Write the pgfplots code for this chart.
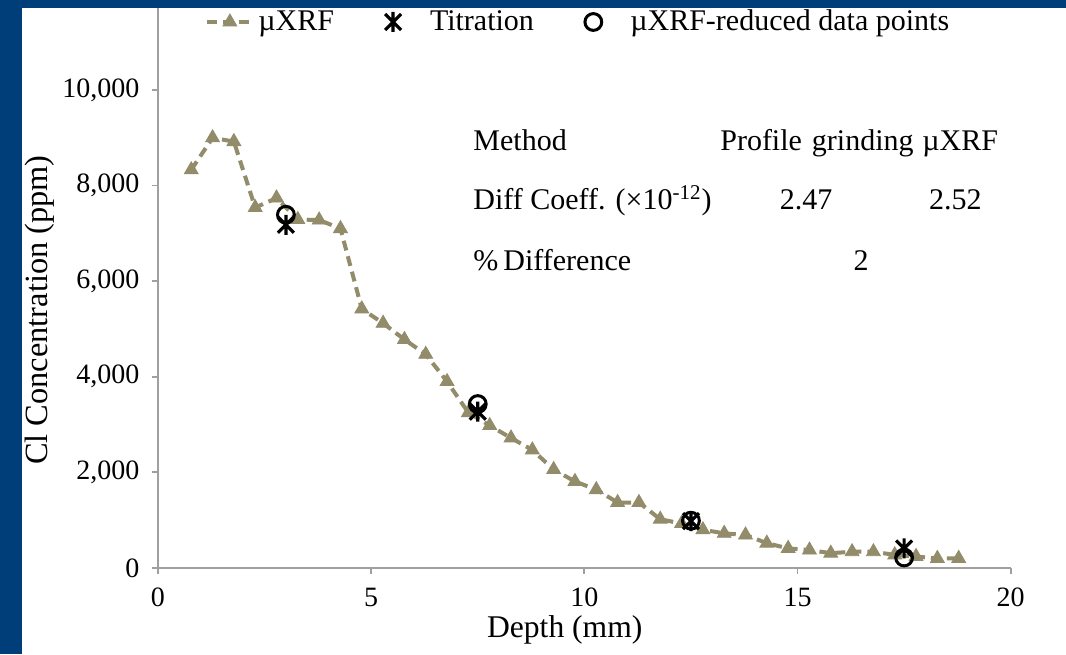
\documentclass[border=0pt]{standalone}
\usepackage{pgfplots}
\usepackage{pgfplotstable}
\pgfplotsset{compat=1.18}
\usepackage{fontspec}
\setmainfont{Liberation Serif}

\definecolor{frameblue}{RGB}{0,62,122}
\definecolor{xrfolive}{RGB}{147,140,106}
\definecolor{axisgray}{RGB}{160,160,160}

\tikzset{table node/.style={font=\fontsize{15}{18}\selectfont, inner sep=0pt}}

% star marker: a cross with a vertical bar through it
\pgfdeclareplotmark{xstar}{%
  \pgfpathmoveto{\pgfqpoint{-0.8\pgfplotmarksize}{-0.8\pgfplotmarksize}}%
  \pgfpathlineto{\pgfqpoint{0.8\pgfplotmarksize}{0.8\pgfplotmarksize}}%
  \pgfpathmoveto{\pgfqpoint{-0.8\pgfplotmarksize}{0.8\pgfplotmarksize}}%
  \pgfpathlineto{\pgfqpoint{0.8\pgfplotmarksize}{-0.8\pgfplotmarksize}}%
  \pgfpathmoveto{\pgfqpoint{0pt}{-\pgfplotmarksize}}%
  \pgfpathlineto{\pgfqpoint{0pt}{\pgfplotmarksize}}%
  \pgfusepathqstroke}

% chloride profile from micro-XRF scanning
\pgfplotstableread{
depth conc
0.78  8330
1.28  9000
1.78  8920
2.28  7540
2.78  7740
3.28  7290
3.78  7280
4.28  7100
4.78  5420
5.28  5120
5.78  4780
6.28  4470
6.78  3900
7.28  3250
7.78  2980
8.28  2720
8.78  2470
9.28  2060
9.78  1810
10.28 1640
10.78 1370
11.28 1370
11.78 1020
12.28 930
12.78 800
13.28 725
13.78 690
14.28 520
14.78 410
15.28 375
15.78 310
16.28 340
16.78 340
17.28 275
17.78 240
18.28 200
18.78 200
}\xrfdata

% profile grinding with titration
\pgfplotstableread{
depth conc
3.0  7180
7.5  3270
12.5 980
17.5 410
}\titrdata

% micro-XRF values reduced to the grinding depths
\pgfplotstableread{
depth conc
3.0  7390
7.5  3430
12.5 990
17.5 220
}\reddata

\begin{document}
\begin{tikzpicture}[x=1pt,y=1pt]
\path[use as bounding box] (0,0) rectangle (533,327);
\fill[frameblue] (0,0) rectangle (533,327);
\fill[white] (11,0) rectangle (533,323);
\begin{axis}[
  at={(79pt,43pt)}, anchor=south west,
  scale only axis, width=426.35pt, height=280pt,
  xmin=0, xmax=20, ymin=0, ymax=11715,
  axis x line*=bottom, axis y line*=left,
  axis line style={draw=axisgray, line width=1pt},
  xtick={0,5,10,15,20},
  ytick={0,2000,4000,6000,8000,10000},
  tick align=outside,
  major tick length=2.8pt,
  tick style={draw=axisgray, line width=0.9pt},
  scaled y ticks=false,
  /pgf/number format/1000 sep={,},
  /pgf/number format/assume math mode=true,
  ticklabel style={font=\fontsize{14}{16}\selectfont, text=black},
  xticklabel style={yshift=-3.5pt},
  yticklabel style={xshift=-3pt},
  xlabel={Depth (mm)},
  ylabel={Cl Concentration (ppm)},
  every axis x label/.style={at={(axis description cs:0.477,-0.11)}, anchor=center, font=\fontsize{15.8}{18}\selectfont},
  every axis y label/.style={at={(axis description cs:-0.1384,0.4607)}, rotate=90, anchor=center, font=\fontsize{16.2}{18}\selectfont},
  legend columns=3,
  legend style={at={(axis description cs:0.0551,0.975)}, anchor=west,
    draw=none, fill=none, inner sep=0pt,
    font=\fontsize{15}{18}\selectfont,
    nodes={inner xsep=2pt},
    /tikz/every even column/.append style={column sep=23.5pt}},
]
\addplot[color=xrfolive, line width=2pt, dash pattern=on 5pt off 3pt,
  mark=triangle*, mark size=4pt,
  mark options={solid, fill=xrfolive, draw=xrfolive, line width=0.4pt},
  legend image code/.code={\draw[mark repeat=2, mark phase=2] plot coordinates {(0pt,0pt) (11.25pt,0pt) (22.5pt,0pt)};}]
  table[x=depth, y=conc] {\xrfdata};
\addlegendentry{µXRF}
\addplot[only marks, mark=xstar, mark size=5pt, draw=black, line width=1.6pt,
  legend image code/.code={\path[draw=none] (0pt,0pt) -- (16.5pt,0pt); \draw[only marks] plot coordinates {(0pt,0pt)};}]
  table[x=depth, y=conc] {\titrdata};
\addlegendentry{Titration}
\addplot[only marks, mark=o, mark size=4.2pt, draw=black, line width=1.5pt,
  legend image code/.code={\path[draw=none] (0pt,0pt) -- (16.5pt,0pt); \draw[only marks] plot coordinates {(0pt,0pt)};}]
  table[x=depth, y=conc] {\reddata};
\addlegendentry{µXRF-reduced data points}

% diffusion coefficient summary
\node[table node, anchor=base west] at (axis cs:7.39,8724) {Method};
\node[table node, anchor=base west] at (axis cs:13.18,8724) {Profile\hspace{5pt}grinding};
\node[table node, anchor=base west] at (axis cs:17.92,8724) {µXRF};
\node[table node, anchor=base west] at (axis cs:7.39,7490) {Diff Coeff. (×10\textsuperscript{-12})};
\node[table node, anchor=base] at (axis cs:15.20,7490) {2.47};
\node[table node, anchor=base] at (axis cs:18.70,7490) {2.52};
\node[table node, anchor=base west] at (axis cs:7.39,6234) {\%\,Difference};
\node[table node, anchor=base] at (axis cs:16.49,6234) {2};
\end{axis}
\end{tikzpicture}
\end{document}
